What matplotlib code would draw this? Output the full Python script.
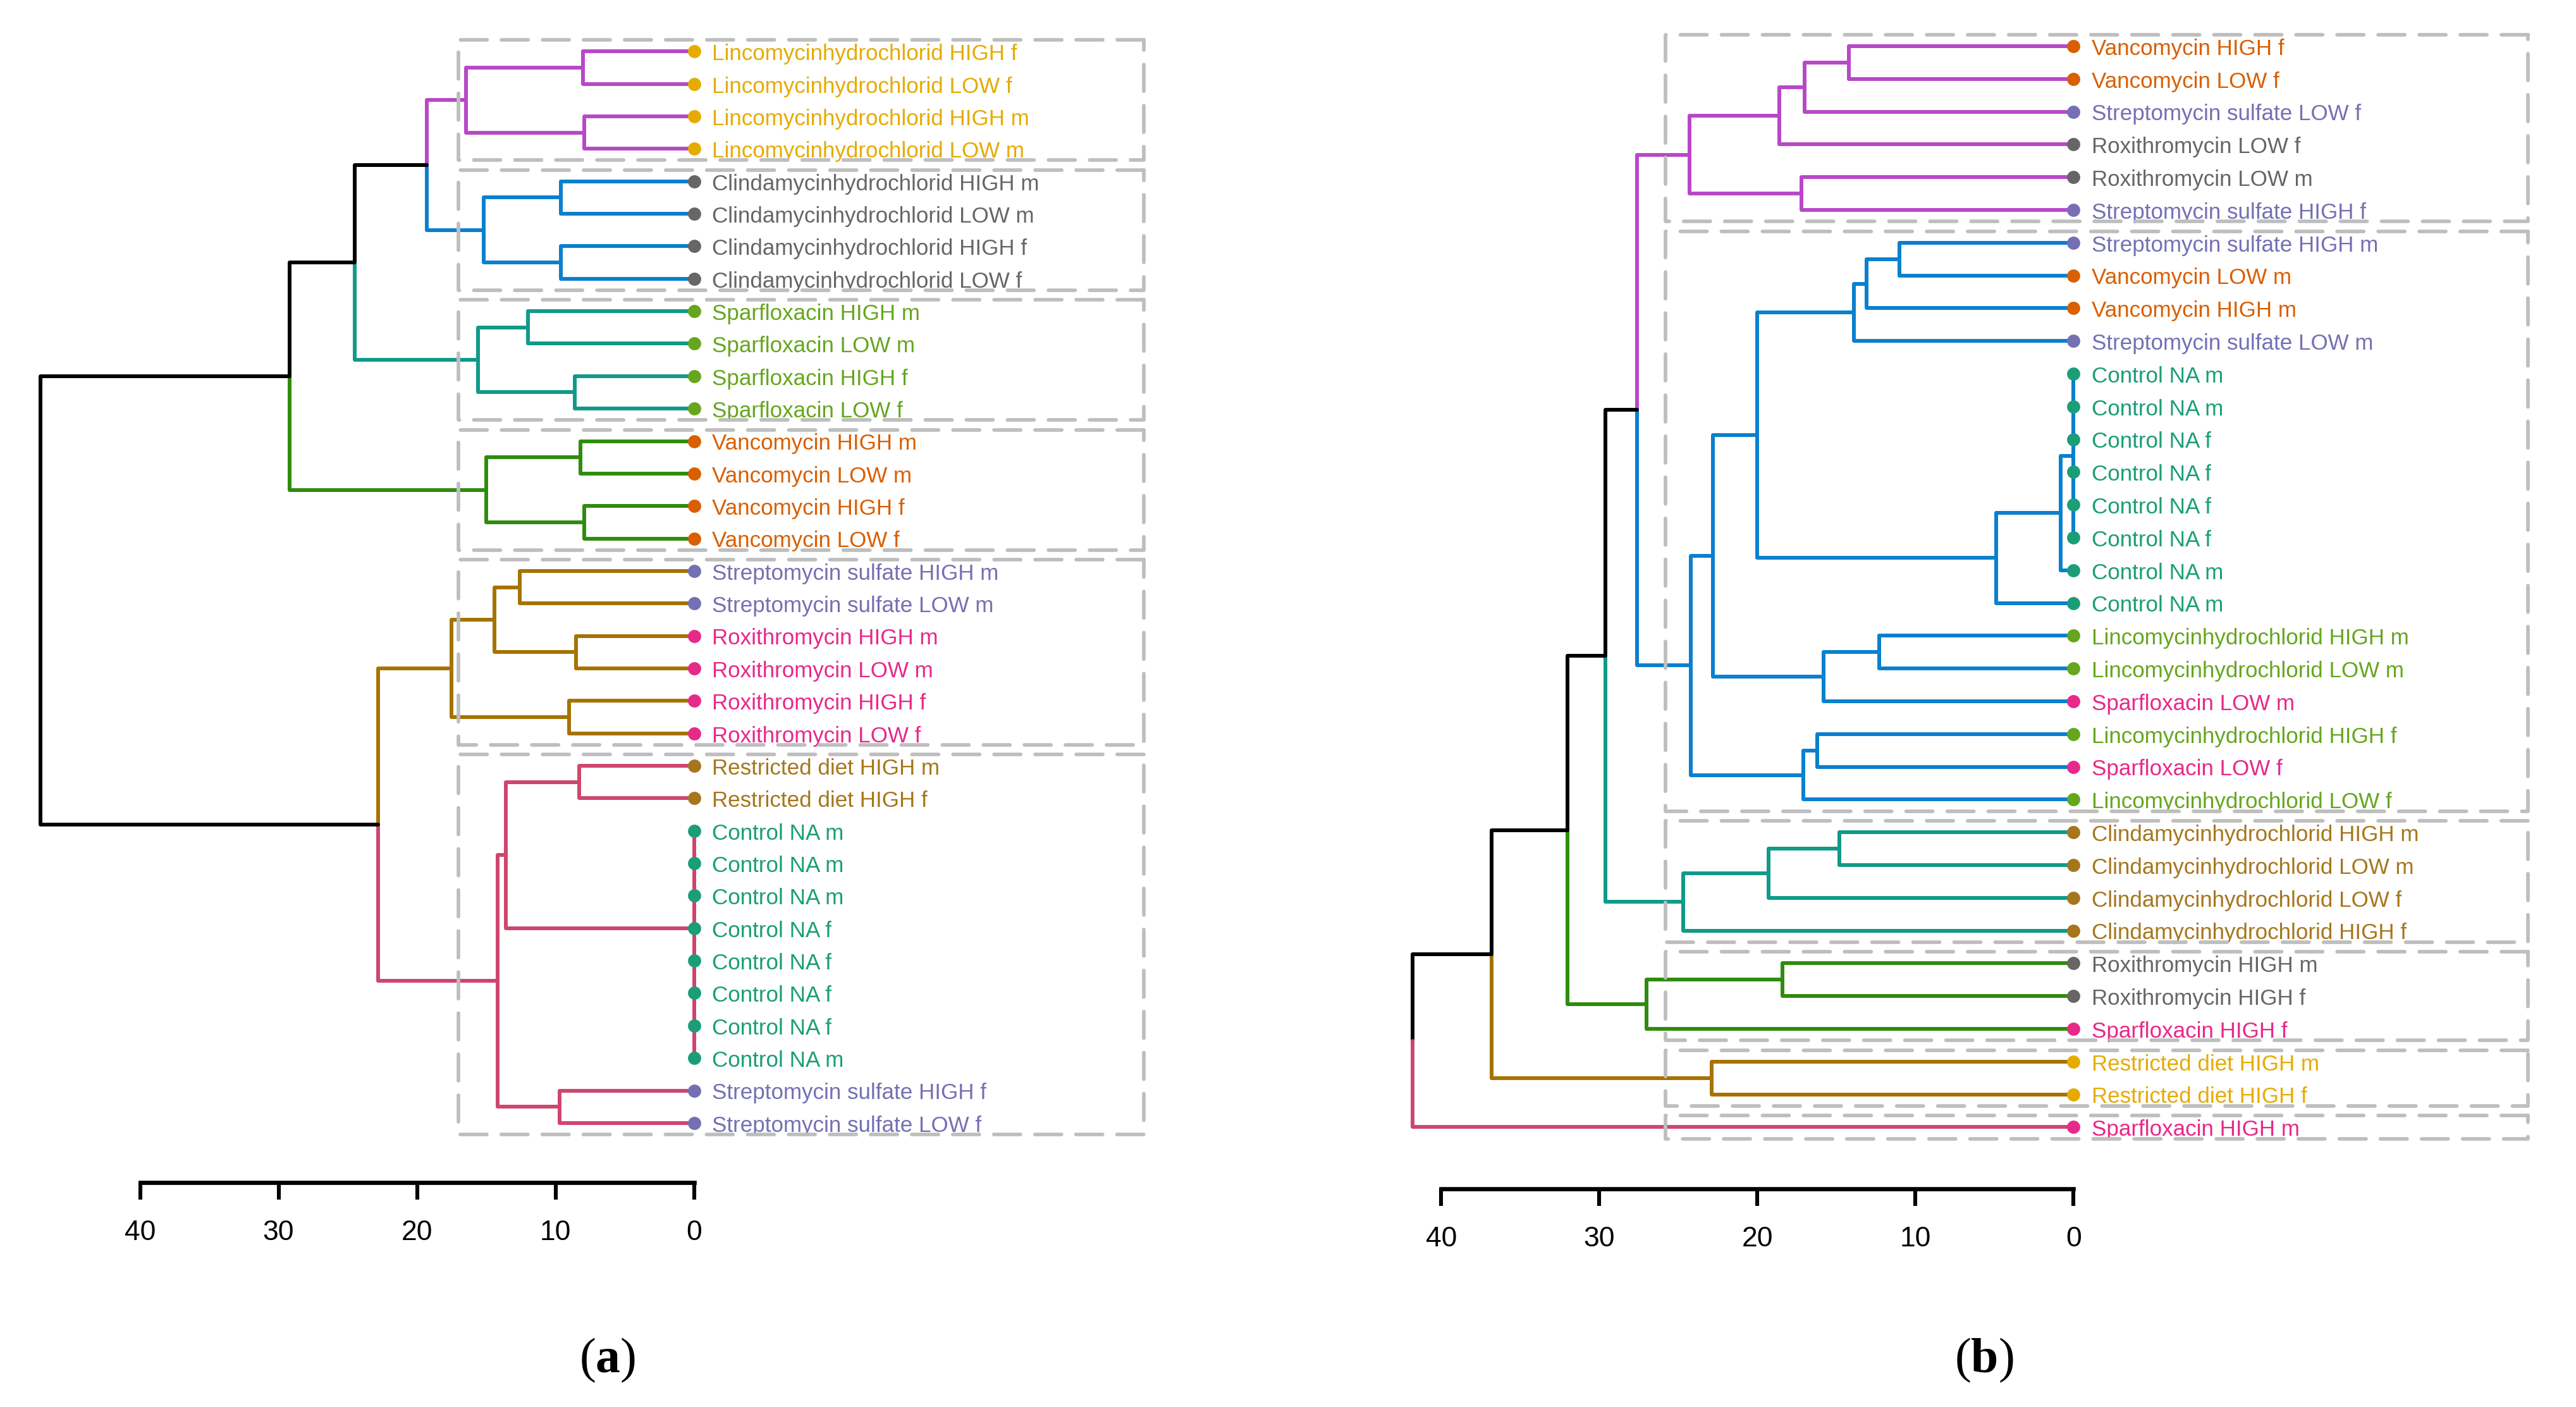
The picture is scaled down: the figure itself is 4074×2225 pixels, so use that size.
import matplotlib
matplotlib.use("Agg")
import matplotlib.pyplot as plt
from matplotlib.patches import Rectangle

plt.rcParams['font.family'] = ['Liberation Sans', 'DejaVu Sans']
plt.rcParams['mathtext.fontset'] = 'custom'
plt.rcParams['mathtext.rm'] = 'Liberation Serif'
plt.rcParams['mathtext.bf'] = 'Liberation Serif:bold'

LINCO = "Lincomycinhydrochlorid"
CLINDA = "Clindamycinhydrochlorid"
SPARF = "Sparfloxacin"
VANC = "Vancomycin"
STREP = "Streptomycin sulfate"
ROXI = "Roxithromycin"
RESTR = "Restricted diet"
CTRL = "Control"

# ---- data: node = (merge height, left, right); leaf = label; "#name" = coloured cluster

# panel (a)
clusters_a = {
    "magenta": (16.45, (8.0, LINCO + " HIGH f", LINCO + " LOW f"),
                (7.9, LINCO + " HIGH m", LINCO + " LOW m")),
    "blue": (15.2, (9.6, CLINDA + " HIGH m", CLINDA + " LOW m"),
             (9.6, CLINDA + " HIGH f", CLINDA + " LOW f")),
    "teal": (15.6, (12.0, SPARF + " HIGH m", SPARF + " LOW m"),
             (8.6, SPARF + " HIGH f", SPARF + " LOW f")),
    "green": (15.0, (8.2, VANC + " HIGH m", VANC + " LOW m"),
              (7.9, VANC + " HIGH f", VANC + " LOW f")),
    "brown": (17.5, (14.4, (12.6, STREP + " HIGH m", STREP + " LOW m"),
                     (8.5, ROXI + " HIGH m", ROXI + " LOW m")),
              (9.0, ROXI + " HIGH f", ROXI + " LOW f")),
    "pink": (14.2, (13.6, (8.3, RESTR + " HIGH m", RESTR + " HIGH f"),
                    (0, CTRL + " NA m",
                     (0, (0, (0, (0, (0, (0, CTRL + " NA m", CTRL + " NA m"),
                                      CTRL + " NA f"), CTRL + " NA f"),
                              CTRL + " NA f"), CTRL + " NA f"), CTRL + " NA m"))),
             (9.7, STREP + " HIGH f", STREP + " LOW f")),
}
tree_a = (47.2, (29.2, (24.5, (19.3, "#magenta", "#blue"), "#teal"), "#green"),
          (22.8, "#brown", "#pink"))

# panel (b)
clusters_b = {
    "magenta": (24.3, (18.6, (17.0, (14.2, VANC + " HIGH f", VANC + " LOW f"),
                              STREP + " LOW f"), ROXI + " LOW f"),
                (17.2, ROXI + " LOW m", STREP + " HIGH f")),
    "blue": (24.2, (22.8, (20.0, (13.9, (13.1, (11.0, STREP + " HIGH m", VANC + " LOW m"),
                                         VANC + " HIGH m"), STREP + " LOW m"),
                           (4.9, (0.8, (0, (0, CTRL + " NA m", (0, CTRL + " NA m", CTRL + " NA f")),
                                        (0, (0, CTRL + " NA f", CTRL + " NA f"), CTRL + " NA f")),
                                  CTRL + " NA m"), CTRL + " NA m")),
                    (15.8, (12.3, LINCO + " HIGH m", LINCO + " LOW m"), SPARF + " LOW m")),
             (17.1, (16.2, LINCO + " HIGH f", SPARF + " LOW f"), LINCO + " LOW f")),
    "teal": (24.7, (19.3, (14.8, CLINDA + " HIGH m", CLINDA + " LOW m"), CLINDA + " LOW f"),
             CLINDA + " HIGH f"),
    "green": (27.0, (18.4, ROXI + " HIGH m", ROXI + " HIGH f"), SPARF + " HIGH f"),
    "brown": (22.9, RESTR + " HIGH m", RESTR + " HIGH f"),
    "pink": SPARF + " HIGH m",
}
tree_b = (41.8, (36.8, (32.0, (29.6, (27.6, "#magenta", "#blue"), "#teal"), "#green"),
                 "#brown"), "#pink")

branch_colors = {"magenta": "#B848C8", "blue": "#0A80CE", "teal": "#109A89",
                 "green": "#2F8C0E", "brown": "#A57300", "pink": "#CE466E"}

label_colors_a = {LINCO: "#E6AB02", CLINDA: "#666666", SPARF: "#66A61E", VANC: "#D95F02",
                  STREP: "#7570B3", ROXI: "#E7298A", RESTR: "#A6761D", CTRL: "#1B9E77"}
label_colors_b = {VANC: "#D95F02", STREP: "#7570B3", ROXI: "#666666", CTRL: "#1B9E77",
                  LINCO: "#66A61E", SPARF: "#E7298A", CLINDA: "#A6761D", RESTR: "#E6AB02"}

axis_ticks = [40, 30, 20, 10, 0]

# ---- layout (figure pixels)
W, H = 4074, 2225
BRANCH_LW = 2.15


def draw_node(ax, node, col, clusters, leaves, spans):
    if isinstance(node, str) and node.startswith("#"):
        name = node[1:]
        col = branch_colors[name]
        start = len(leaves)
        res = draw_node(ax, clusters[name], col, clusters, leaves, spans)
        spans[name] = (start, len(leaves) - 1)
        return res
    if isinstance(node, str):
        leaves.append(node)
        return len(leaves) - 1, 0.0, col
    h, left, right = node
    kids = [draw_node(ax, k, col, clusters, leaves, spans) for k in (left, right)]
    pos = (kids[0][0] + kids[1][0]) / 2
    for y, hk, ck in kids:
        ax.plot([h, h, hk], [pos, y, y], color=ck, lw=BRANCH_LW,
                solid_capstyle="round", solid_joinstyle="round", zorder=2)
    return pos, h, col


def panel(rect_px, x0, sx, y0, sy, tree, clusters, label_colors,
          box_x, axis_y, letter, letter_xy):
    left, right = rect_px
    ax = fig.add_axes([left / W, 0, (right - left) / W, 1])
    ax.set_xlim((x0 - left) / sx, (x0 - right) / sx)
    ax.set_ylim((H - y0) / sy, -y0 / sy)
    ax.patch.set_visible(False)

    leaves, spans = [], {}
    draw_node(ax, tree, "black", clusters, leaves, spans)

    for i, lab in enumerate(leaves):
        c = label_colors[lab.rsplit(" ", 2)[0]]
        ax.plot(0, i, "o", color=c, ms=7.5, mew=0, zorder=3)
        ax.annotate(lab, (0, i), xytext=(10.2, -5.0), textcoords="offset points",
                    color=c, fontsize=12.6, va="baseline", ha="left", zorder=3)

    for name, (i0, i1) in spans.items():
        ax.add_patch(Rectangle((box_x[1], i0 - 0.35), box_x[0] - box_x[1], i1 - i0 + 0.7,
                               fill=False, edgecolor="#BEBEBE", lw=2.05,
                               linestyle=(0, (7.4, 4.0)), capstyle="round",
                               joinstyle="round", zorder=4))

    for s in ("top", "right", "left"):
        ax.spines[s].set_visible(False)
    ax.spines["bottom"].set_position(("data", axis_y))
    ax.spines["bottom"].set_bounds(0, 40)
    ax.spines["bottom"].set_linewidth(2.4)
    ax.set_xticks(axis_ticks)
    ax.set_xticklabels([str(t) for t in axis_ticks])
    ax.tick_params(axis="x", direction="out", length=9.7, width=2.2, pad=11.5,
                   labelsize=16)
    ax.set_yticks([])

    fig.text(letter_xy[0] / W, 1 - letter_xy[1] / H, "($\\mathbf{%s}$)" % letter,
             family="Liberation Serif", fontsize=28, ha="center", va="center")
    return ax


fig = plt.figure(figsize=(W / 200, H / 200), dpi=200)

panel((0, 2037), 1097.5, 21.9, 81.3, 51.35, tree_a, clusters_a, label_colors_a,
      (17.0, -32.5), 34.83, "a", (961, 2151))
panel((2037, 4074), 3279.3, 25.0, 73.0, 51.8, tree_b, clusters_b, label_colors_b,
      (25.8, -28.75), 34.88, "b", (3138, 2151))

fig.savefig("out.png", dpi=200, facecolor="white")
